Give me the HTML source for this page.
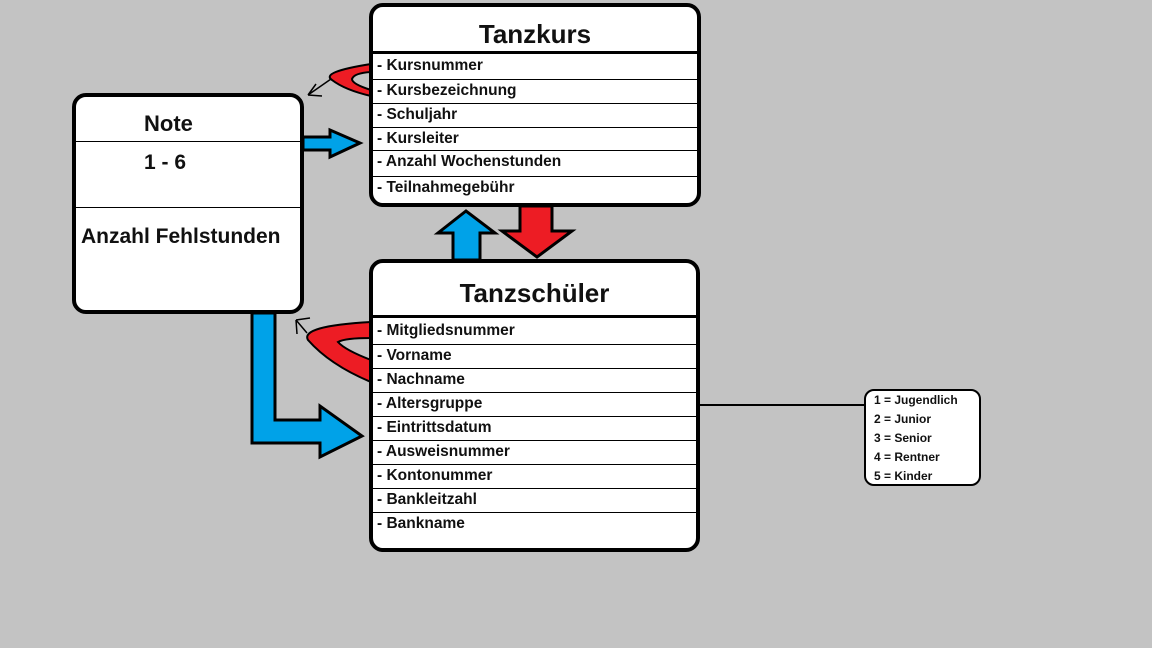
<!DOCTYPE html>
<html><head><meta charset="utf-8"><style>
body{margin:0;width:1152px;height:648px;background:#c3c3c3;position:relative;overflow:hidden;font-family:"Liberation Sans",sans-serif;font-weight:bold;color:#111}
.box{position:absolute;background:#fff;border:4px solid #000;border-radius:14px;box-sizing:border-box}
.t{position:absolute;white-space:nowrap}
.row{position:absolute;left:0;right:0;border-top:1.5px solid #000;font-size:15.5px;padding-left:4px;box-sizing:border-box;height:24px;line-height:22px}
</style></head><body>
<svg width="1152" height="648" style="position:absolute;left:0;top:0">
<line x1="688" y1="405" x2="866" y2="405" stroke="#000" stroke-width="2"/>
<!-- blue right arrow -->
<polygon points="303,137 330,137 330,130 360,143 330,157 330,150 303,150" fill="#00a2e8" stroke="#000" stroke-width="3"/>
<!-- blue up -->
<polygon points="453,260 453,233 438,233 466,211 495,233 480,233 480,260" fill="#00a2e8" stroke="#000" stroke-width="3"/>
<!-- red down -->
<polygon points="520,206 552,206 552,231 572,231 537,257 502,231 520,231" fill="#ed1c24" stroke="#000" stroke-width="3"/>
<!-- blue L -->
<polygon points="252,313 275,313 275,420 320,420 320,406 362,436 320,457 320,443 252,443" fill="#00a2e8" stroke="#000" stroke-width="3"/>
<!-- red loops -->
<path d="M371,64 Q320,72 332,80 Q345,90 371,96 L371,90 Q352,84 352,79 Q354,73 371,72 Z" fill="#ed1c24" stroke="#000" stroke-width="2"/>
<path d="M331,79 L308,95 M308,95 L316,84 M308,95 L322,96" stroke="#000" stroke-width="1.5" fill="none"/>
<path d="M371,322 Q300,326 308,340 Q330,365 371,382 L371,360 Q345,350 338,342 Q345,338 371,338 Z" fill="#ed1c24" stroke="#000" stroke-width="2"/>
<path d="M307,333 L296,320 M296,320 L297,334 M296,320 L310,318" stroke="#000" stroke-width="1.5" fill="none"/>
</svg>

<div class="box" style="left:72px;top:93px;width:232px;height:221px">
<div class="t" style="left:68px;top:14px;font-size:22px">Note</div>
<div style="position:absolute;left:0;right:0;top:44px;border-top:1px solid #000"></div>
<div class="t" style="left:68px;top:54px;font-size:21px">1 - 6</div>
<div style="position:absolute;left:0;right:0;top:110px;border-top:1px solid #000"></div>
<div class="t" style="left:5px;top:128px;font-size:21px">Anzahl Fehlstunden</div>
</div>

<div class="box" style="left:369px;top:3px;width:332px;height:204px">
<div class="t" style="left:0;right:0;top:12px;text-align:center;font-size:26px">Tanzkurs</div>
<div style="position:absolute;left:0;right:0;top:44px;border-top:3px solid #000"></div>
<div class="row" style="top:48px;border-top:none">- Kursnummer</div>
<div class="row" style="top:72px">- Kursbezeichnung</div>
<div class="row" style="top:96px">- Schuljahr</div>
<div class="row" style="top:120px">- Kursleiter</div>
<div class="row" style="top:143px">- Anzahl Wochenstunden</div>
<div class="row" style="top:169px">- Teilnahmegebühr</div>
</div>

<div class="box" style="left:369px;top:259px;width:331px;height:293px">
<div class="t" style="left:0;right:0;top:15px;text-align:center;font-size:26px">Tanzschüler</div>
<div style="position:absolute;left:0;right:0;top:52px;border-top:3px solid #000"></div>
<div class="row" style="top:57px;border-top:none">- Mitgliedsnummer</div>
<div class="row" style="top:81px">- Vorname</div>
<div class="row" style="top:105px">- Nachname</div>
<div class="row" style="top:129px">- Altersgruppe</div>
<div class="row" style="top:153px">- Eintrittsdatum</div>
<div class="row" style="top:177px">- Ausweisnummer</div>
<div class="row" style="top:201px">- Kontonummer</div>
<div class="row" style="top:225px">- Bankleitzahl</div>
<div class="row" style="top:249px">- Bankname</div>
</div>

<div class="box" style="left:864px;top:389px;width:117px;height:97px;border-width:2px;border-radius:10px;font-size:12px;line-height:19px;padding:0 0 0 8px">
1 = Jugendlich<br>2 = Junior<br>3 = Senior<br>4 = Rentner<br>5 = Kinder
</div>
</body></html>
